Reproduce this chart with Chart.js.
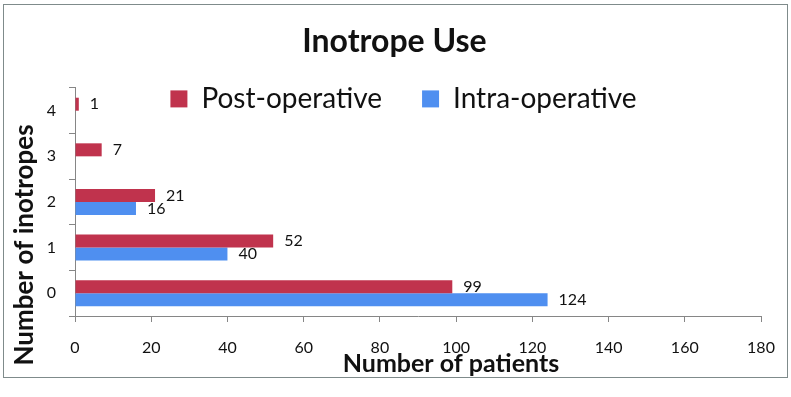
<!DOCTYPE html>
<html>
<head>
<meta charset="utf-8">
<title>Inotrope Use</title>
<script src="https://cdn.jsdelivr.net/npm/chart.js@4.4.1/dist/chart.umd.min.js"></script>
<style>
  body { margin: 0; background: #fff; }
  #wrap { position: relative; width: 791px; height: 397px; }
  #frame {
    position: absolute; left: 3px; top: 4px;
    width: 783px; height: 372px;
    border: 1px solid #7f8b8b;
  }
  #chart { position: absolute; left: 0; top: 0; }
</style>
</head>
<body>
<div id="wrap">
  <div id="frame"></div>
  <canvas id="chart" width="791" height="397"></canvas>
</div>
<script>
// Chart data
const categories = ["4", "3", "2", "1", "0"];
const postOperative = [1, 7, 21, 52, 99];
const intraOperative = [0, 0, 16, 40, 124];
const xTicks = [0, 20, 40, 60, 80, 100, 120, 140, 160, 180];

const FONT = "Lato, 'Open Sans', sans-serif";
const AXIS_GREY = '#868686';

// Let the legend sit over the top of the plot area, like the original
const legendOverlap = {
    id: 'legendOverlap',
    afterInit(chart) {
        const legend = chart.legend;
        const origFit = legend.fit;
        legend.fit = function() {
            origFit.call(this);
            this.height = 43;
        };
    },
    afterLayout(chart) {
        // grow the legend box back after layout so it is not clipped,
        // and nudge title + legend to the canvas centre
        const legend = chart.legend;
        legend.height = 80;
        legend.bottom = legend.top + 80;
        legend.left += 23;
        legend.right += 23;
        const title = chart.titleBlock;
        if (title) {
            title.left += 14;
            title.right += 14;
        }
    }
};

// Numbers at the end of every bar
const barValueLabels = {
    id: 'barValueLabels',
    afterDatasetsDraw(chart) {
        const ctx = chart.ctx;
        ctx.save();
        ctx.font = '16px ' + FONT;
        ctx.fillStyle = '#111';
        ctx.textBaseline = 'middle';
        ctx.textAlign = 'left';
        chart.data.datasets.forEach((ds, i) => {
            chart.getDatasetMeta(i).data.forEach((bar, j) => {
                const v = ds.data[j];
                if (!v) return;
                ctx.fillText(String(v), bar.x + 11, bar.y);
            });
        });
        ctx.restore();
    }
};

// Axis titles are placed off-centre in the original
const axisTitles = {
    id: 'axisTitles',
    afterDraw(chart) {
        const ctx = chart.ctx;
        const area = chart.chartArea;
        ctx.save();
        ctx.fillStyle = '#111';
        ctx.textAlign = 'center';
        ctx.textBaseline = 'middle';
        ctx.font = 'bold 25px ' + FONT;
        ctx.fillText('Number of patients', (area.left + area.right) / 2 + 33, area.bottom + 48);
        ctx.font = 'bold 26px ' + FONT;
        ctx.translate(25, (area.top + area.bottom) / 2 + 43);
        ctx.rotate(-Math.PI / 2);
        ctx.fillText('Number of inotropes', 0, 0);
        ctx.restore();
    }
};

const ctx = document.getElementById('chart').getContext('2d');
const chart = new Chart(ctx, {
    type: 'bar',
    data: {
        labels: categories,
        datasets: [{
            label: 'Post-operative',
            data: postOperative,
            backgroundColor: '#c0334d',
            borderWidth: 0
        }, {
            label: 'Intra-operative',
            data: intraOperative,
            backgroundColor: '#4f8ff0',
            borderWidth: 0
        }]
    },
    options: {
        indexAxis: 'y',
        responsive: false,
        animation: false,
        devicePixelRatio: 1,
        categoryPercentage: 0.57,
        barPercentage: 1,
        layout: {
            padding: { top: 0, right: 30, bottom: 0, left: 0 }
        },
        plugins: {
            title: {
                display: true,
                text: 'Inotrope Use',
                color: '#111',
                font: { family: FONT, size: 32, weight: 'bold' },
                padding: { top: 22, bottom: -15.5 }
            },
            legend: {
                display: true,
                position: 'top',
                labels: {
                    boxWidth: 17,
                    boxHeight: 17,
                    padding: 40,
                    color: '#111',
                    font: { family: FONT, size: 28 }
                }
            },
            tooltip: { enabled: false }
        },
        scales: {
            x: {
                min: 0,
                max: 180,
                afterFit: function(scale) { scale.height = 81; },
                afterBuildTicks: function(scale) {
                    scale.ticks = xTicks.map(v => ({ value: v }));
                },
                grid: {
                    drawOnChartArea: false,
                    drawTicks: true,
                    tickLength: 6,
                    color: AXIS_GREY
                },
                border: { color: AXIS_GREY },
                ticks: {
                    color: '#111',
                    padding: 16,
                    maxRotation: 0,
                    font: { family: FONT, size: 16 }
                }
            },
            y: {
                afterFit: function(scale) { scale.width = 75; },
                grid: {
                    drawOnChartArea: false,
                    drawTicks: true,
                    tickLength: 6,
                    offset: true,
                    color: AXIS_GREY
                },
                border: { color: AXIS_GREY },
                ticks: {
                    color: '#111',
                    padding: 13,
                    font: { family: FONT, size: 16 }
                }
            }
        }
    },
    plugins: [legendOverlap, barValueLabels, axisTitles]
});
</script>
</body>
</html>
